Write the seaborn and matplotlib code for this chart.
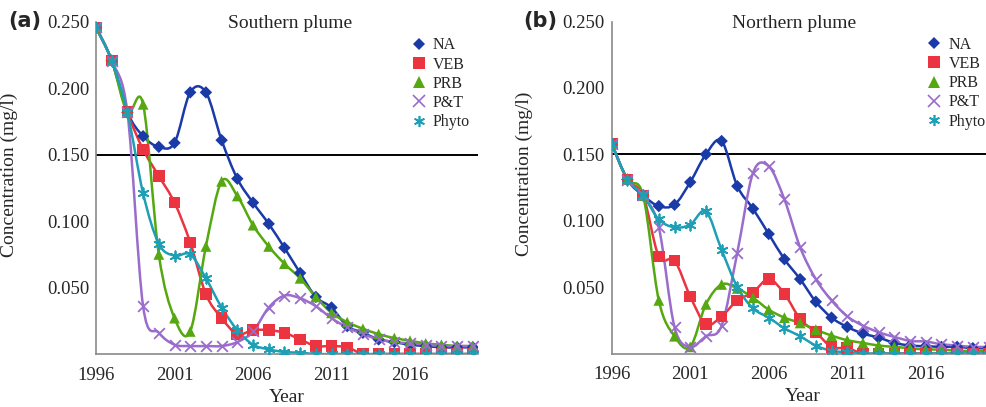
import numpy as np
import pandas as pd
import matplotlib
matplotlib.use("Agg")
import matplotlib.pyplot as plt
import seaborn as sns
from matplotlib.path import Path
from matplotlib.patches import PathPatch
from matplotlib.lines import Line2D

# ---- data ----
years = list(range(1996, 2021))
series_names = ["NA", "VEB", "PRB", "P&T", "Phyto"]

south_na = [0.246, 0.221, 0.182, 0.164, 0.156, 0.159, 0.197, 0.197, 0.161, 0.132,
            0.114, 0.098, 0.080, 0.061, 0.043, 0.035, 0.021, 0.016, 0.011, 0.009,
            0.007, 0.006, 0.005, 0.005, 0.005]
south_veb = [0.246, 0.221, 0.182, 0.154, 0.134, 0.114, 0.084, 0.045, 0.027, 0.015,
             0.018, 0.018, 0.016, 0.011, 0.006, 0.006, 0.005, 0.0, 0.0, 0.0,
             0.0, 0.0, 0.0, 0.0, 0.0]
south_prb = [0.246, 0.221, 0.182, 0.188, 0.075, 0.027, 0.017, 0.081, 0.130, 0.119,
             0.097, 0.081, 0.068, 0.057, 0.043, 0.031, 0.024, 0.019, 0.015, 0.012,
             0.010, 0.008, 0.007, 0.006, 0.006]
south_pt = [0.246, 0.221, 0.182, 0.036, 0.016, 0.007, 0.006, 0.006, 0.006, 0.009,
            0.017, 0.035, 0.044, 0.042, 0.036, 0.027, 0.020, 0.015, 0.011, 0.009,
            0.008, 0.007, 0.006, 0.006, 0.006]
south_phyto = [0.246, 0.221, 0.182, 0.121, 0.083, 0.074, 0.075, 0.057, 0.035, 0.018,
               0.007, 0.0035, 0.0015, 0.001, 0.0, 0.0, 0.0, 0.0, 0.0, 0.0,
               0.0, 0.0, 0.0, 0.0, 0.0]

north_na = [0.158, 0.131, 0.119, 0.111, 0.112, 0.129, 0.150, 0.160, 0.126, 0.109,
            0.090, 0.071, 0.056, 0.039, 0.027, 0.020, 0.015, 0.012, 0.008, 0.006,
            0.0055, 0.005, 0.005, 0.004, 0.004]
north_veb = [0.158, 0.131, 0.119, 0.073, 0.070, 0.043, 0.022, 0.028, 0.040, 0.046,
             0.056, 0.045, 0.026, 0.016, 0.005, 0.004, 0.0, 0.0, 0.0, 0.0,
             0.0, 0.0, 0.0, 0.0, 0.0]
north_prb = [0.158, 0.131, 0.119, 0.040, 0.013, 0.005, 0.037, 0.052, 0.049, 0.042,
             0.033, 0.027, 0.023, 0.018, 0.0135, 0.010, 0.008, 0.006, 0.005, 0.004,
             0.003, 0.003, 0.002, 0.002, 0.002]
north_pt = [0.158, 0.131, 0.119, 0.095, 0.020, 0.005, 0.013, 0.021, 0.076, 0.136,
            0.141, 0.116, 0.080, 0.056, 0.040, 0.028, 0.021, 0.016, 0.0125, 0.0095,
            0.009, 0.007, 0.006, 0.005, 0.005]
north_phyto = [0.158, 0.131, 0.119, 0.101, 0.095, 0.097, 0.107, 0.078, 0.050, 0.034,
               0.027, 0.019, 0.013, 0.006, 0.002, 0.001, 0.0, 0.0, 0.0, 0.0,
               0.0, 0.0, 0.0, 0.0, 0.0]

threshold = 0.150
ytick_values = [0.050, 0.100, 0.150, 0.200, 0.250]
xtick_values = [1996, 2001, 2006, 2011, 2016]

colors = {"NA": "#1a3aa8", "VEB": "#ec3340", "PRB": "#55a80f",
          "P&T": "#9a6ccc", "Phyto": "#1d9fb5"}
markers = {"NA": "D", "VEB": "s", "PRB": "^", "P&T": "x", "Phyto": (6, 2, 0)}
msize = {"NA": 40, "VEB": 70, "PRB": 60, "P&T": 60, "Phyto": 55}

serif = "Liberation Serif"


def smooth_path(x, y):
    """Excel-like smoothed line: cubic Bezier through all points."""
    pts = np.column_stack([x, y]).astype(float)
    n = len(pts)
    verts = [pts[0]]
    codes = [Path.MOVETO]
    for i in range(n - 1):
        p_prev = pts[i - 1] if i > 0 else pts[i]
        p_next = pts[i + 2] if i + 2 < n else pts[i + 1]
        c1 = pts[i] + (pts[i + 1] - p_prev) / 6.0
        c2 = pts[i + 1] - (p_next - pts[i]) / 6.0
        verts += [c1, c2, pts[i + 1]]
        codes += [Path.CURVE4] * 3
    return Path(verts, codes)


def draw_panel(ax, df, title, title_x):
    for name in series_names:
        sub = df[df["series"] == name]
        patch = PathPatch(smooth_path(sub["year"], sub["conc"]), fill=False,
                          edgecolor=colors[name], lw=1.8, zorder=2)
        ax.add_patch(patch)
        filled = name in ("NA", "VEB", "PRB")
        kw = dict(edgecolor="none") if filled else dict(linewidth=1.3)
        sns.scatterplot(data=sub, x="year", y="conc", ax=ax, marker=markers[name],
                        color=colors[name], s=msize[name], zorder=3, legend=False, **kw)
    ax.axhline(threshold, color="black", lw=1.4, zorder=1)
    ax.set_xlim(1996, 2020.33)
    ax.set_ylim(0, 0.25)
    ax.set_xticks(xtick_values)
    ax.set_xticklabels([str(v) for v in xtick_values], fontfamily=serif, fontsize=13.5)
    ax.set_yticks(ytick_values)
    ax.set_yticklabels([f"{v:.3f}" for v in ytick_values], fontfamily=serif, fontsize=13.5)
    ax.tick_params(axis="both", length=0)
    ax.tick_params(axis="x", pad=9)
    ax.tick_params(axis="y", pad=5)
    for side in ("top", "right"):
        ax.spines[side].set_visible(False)
    for side in ("left", "bottom"):
        ax.spines[side].set_color("#8a8a8a")
        ax.spines[side].set_linewidth(1.2)
    ax.set_xlabel("Year", fontfamily=serif, fontsize=14)
    ax.set_ylabel("Concentration (mg/l)", fontfamily=serif, fontsize=14)
    ax.xaxis.set_label_coords(0.5, -0.105)
    ax.yaxis.set_label_coords(-0.205, 0.54)
    ax.text(title_x, 0.995, title, transform=ax.transAxes, ha="center", va="center",
            fontfamily=serif, fontsize=14)
    ax.grid(False)
    handles = [Line2D([], [], linestyle="none", marker=markers[n], color=colors[n],
                      markeredgecolor=colors[n] if n in ("P&T", "Phyto") else "none",
                      markersize=8 if n != "NA" else 6.5, markeredgewidth=1.2)
               for n in series_names]
    leg = ax.legend(handles, series_names, loc="upper left", bbox_to_anchor=(0.79, 0.997),
                    frameon=False, handlelength=0.8, handletextpad=0.5,
                    labelspacing=0.2, prop={"family": serif, "size": 11.5})
    return leg


def long_frame(cols):
    rows = []
    for name, vals in zip(series_names, cols):
        for yr, v in zip(years, vals):
            rows.append({"series": name, "year": yr, "conc": v})
    return pd.DataFrame(rows)


south = long_frame([south_na, south_veb, south_prb, south_pt, south_phyto])
north = long_frame([north_na, north_veb, north_prb, north_pt, north_phyto])

sns.set_style("white")
fig = plt.figure(figsize=(9.86, 4.07), dpi=100)
ax1 = fig.add_axes([96 / 986, 1 - 354 / 407, 382 / 986, 332 / 407])
ax2 = fig.add_axes([611.7 / 986, 1 - 353.5 / 407, 382 / 986, 332 / 407])

draw_panel(ax1, south, "Southern plume", 0.508)
draw_panel(ax2, north, "Northern plume", 0.477)

fig.text(8 / 986, 1 - 21 / 407, "(a)", fontfamily="DejaVu Sans", fontweight="bold",
         fontsize=15, va="center", ha="left")
fig.text(523 / 986, 1 - 21 / 407, "(b)", fontfamily="DejaVu Sans", fontweight="bold",
         fontsize=15, va="center", ha="left")

fig.savefig("out.png", dpi=100)
